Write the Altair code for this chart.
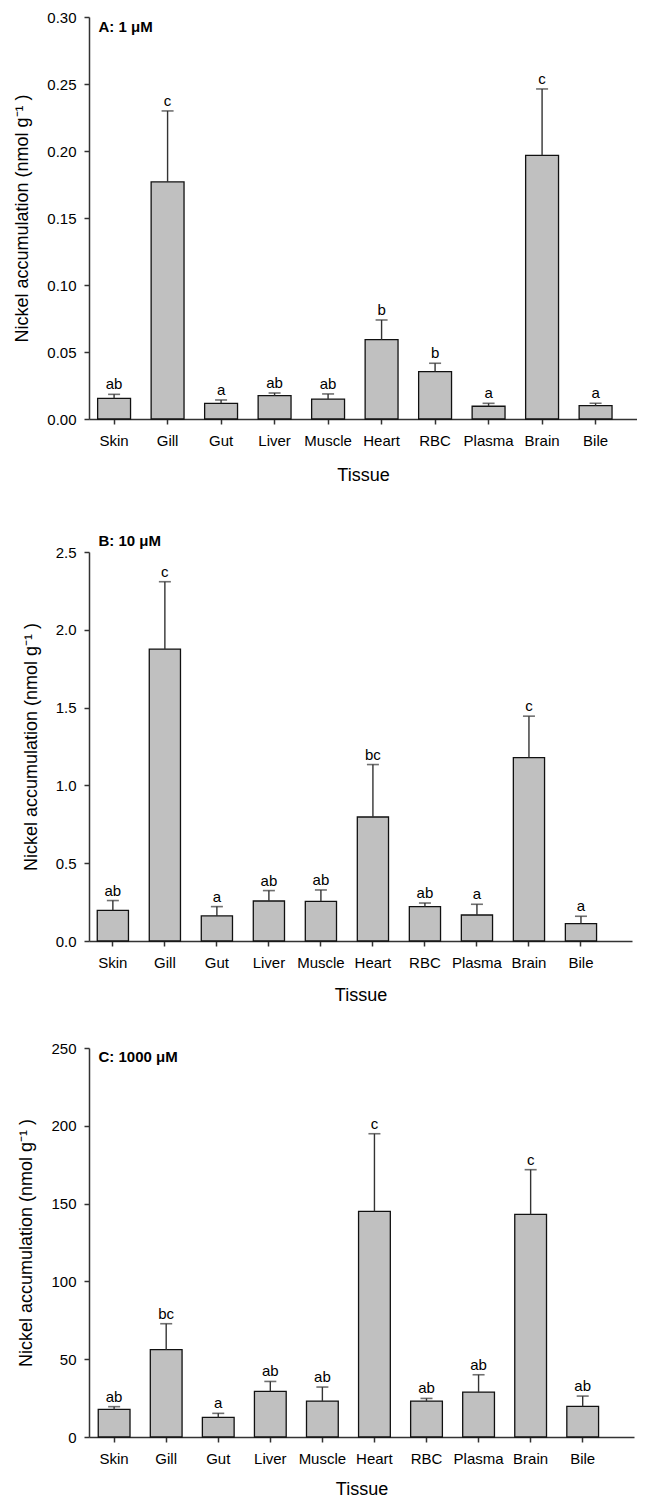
import altair as alt
import pandas as pd

FONT = "Liberation Sans, Arial, sans-serif"
YTITLE = "Nickel accumulation (nmol g\u207b\u00b9 )"

tissues = ["Skin", "Gill", "Gut", "Liver", "Muscle", "Heart", "RBC", "Plasma", "Brain", "Bile"]

# Panel A: 1 uM
a_mean = [0.0154, 0.1769, 0.0117, 0.0175, 0.0149, 0.0592, 0.0354, 0.0095, 0.1968, 0.0100]
a_upper = [0.0184, 0.2299, 0.0142, 0.0194, 0.0187, 0.0739, 0.0416, 0.0117, 0.2463, 0.0117]
a_sig = ["ab", "c", "a", "ab", "ab", "b", "b", "a", "c", "a"]
a_ticks = [0, 0.05, 0.10, 0.15, 0.20, 0.25, 0.30]

# Panel B: 10 uM
b_mean = [0.197, 1.876, 0.161, 0.257, 0.255, 0.797, 0.221, 0.167, 1.179, 0.112]
b_upper = [0.260, 2.309, 0.221, 0.324, 0.328, 1.134, 0.244, 0.236, 1.445, 0.159]
b_sig = ["ab", "c", "a", "ab", "ab", "bc", "ab", "a", "c", "a"]
b_ticks = [0, 0.5, 1.0, 1.5, 2.0, 2.5]

# Panel C: 1000 uM
c_mean = [17.7, 56.1, 12.6, 29.3, 23.1, 145.0, 23.1, 28.9, 143.1, 19.7]
c_upper = [19.5, 72.8, 15.2, 35.7, 32.1, 194.9, 24.8, 40.0, 171.8, 26.3]
c_sig = ["ab", "bc", "a", "ab", "ab", "c", "ab", "ab", "c", "ab"]
c_ticks = [0, 50, 100, 150, 200, 250]


def panel(label, mean, upper, sig, ymax, yticks, yfmt, width, height,
          pin, pout, align, label_y, xtitle_pad, extra_top=None):
    df = pd.DataFrame({"tissue": tissues, "mean": mean, "upper": upper, "sig": sig})
    xenc = alt.X("tissue:N", sort=tissues,
                 scale=alt.Scale(paddingInner=pin, paddingOuter=pout, align=align),
                 axis=alt.Axis(title="Tissue", labelAngle=0, labelPadding=9,
                               titlePadding=xtitle_pad))
    yscale = alt.Scale(domain=[0, ymax], nice=False, zero=True)
    yaxis = alt.Axis(title=YTITLE, values=yticks, format=yfmt, labelPadding=8, titlePadding=15)
    base = alt.Chart(df)
    bars = base.mark_bar(fill="#c0c0c0", stroke="#111111", strokeWidth=1.3).encode(
        x=xenc, y=alt.Y("mean:Q", scale=yscale, axis=yaxis))
    err = base.mark_rule(color="#333333", strokeWidth=1.4).encode(
        x=xenc, y=alt.Y("mean:Q", scale=yscale, axis=yaxis), y2="upper:Q")
    caps = base.mark_tick(color="#333333", size=12, thickness=1.6).encode(
        x=xenc, y=alt.Y("upper:Q", scale=yscale, axis=yaxis))
    letters = base.mark_text(baseline="alphabetic", dy=-5, font=FONT, fontSize=15,
                             color="black").encode(
        x=xenc, y=alt.Y("upper:Q", scale=yscale, axis=yaxis), text="sig:N")
    lab = alt.Chart(pd.DataFrame({"t": [label]})).mark_text(
        align="left", baseline="alphabetic", fontWeight="bold", fontSize=15,
        font=FONT, color="black").encode(
        x=alt.value(9.5), y=alt.value(label_y), text="t:N")
    layers = [bars, err, caps, letters, lab]
    if extra_top is not None:
        ghost = alt.Chart(pd.DataFrame({"t": [0]})).mark_rule(
            strokeOpacity=0, strokeWidth=1).encode(
            x=alt.value(0), x2=alt.value(2), y=alt.value(extra_top), y2=alt.value(extra_top))
        layers.append(ghost)
    return alt.layer(*layers).properties(width=width, height=height)


pA = panel("A: 1 \u03bcM", a_mean, a_upper, a_sig, 0.30, a_ticks, ".2f",
           548, 402, 0.385, 0.314, 0.257, 14.6, 18)
pB = panel("B: 10 \u03bcM", b_mean, b_upper, b_sig, 2.5, b_ticks, ".1f",
           543, 389, 0.40, 0.42, 0.189, -6, 16, extra_top=-31)
pC = panel("C: 1000 \u03bcM", c_mean, c_upper, c_sig, 250, c_ticks, "d",
           545, 389, 0.39, 0.429, 0.207, 14.4, 14)

chart = alt.vconcat(pA, pB, pC, spacing=37).properties(
    padding={"left": 5, "top": 2, "right": 0, "bottom": 0}
).configure_view(stroke=None).configure_axis(
    domainColor="#333333", domainWidth=1.5, tickColor="#333333", tickWidth=1.5,
    tickSize=5, grid=False, labelFont=FONT, labelFontSize=15, labelColor="black",
    titleFont=FONT, titleFontSize=18, titleFontWeight="normal", titleColor="black"
)

chart.save("out.html", embed_options={"renderer": "svg", "actions": False})
